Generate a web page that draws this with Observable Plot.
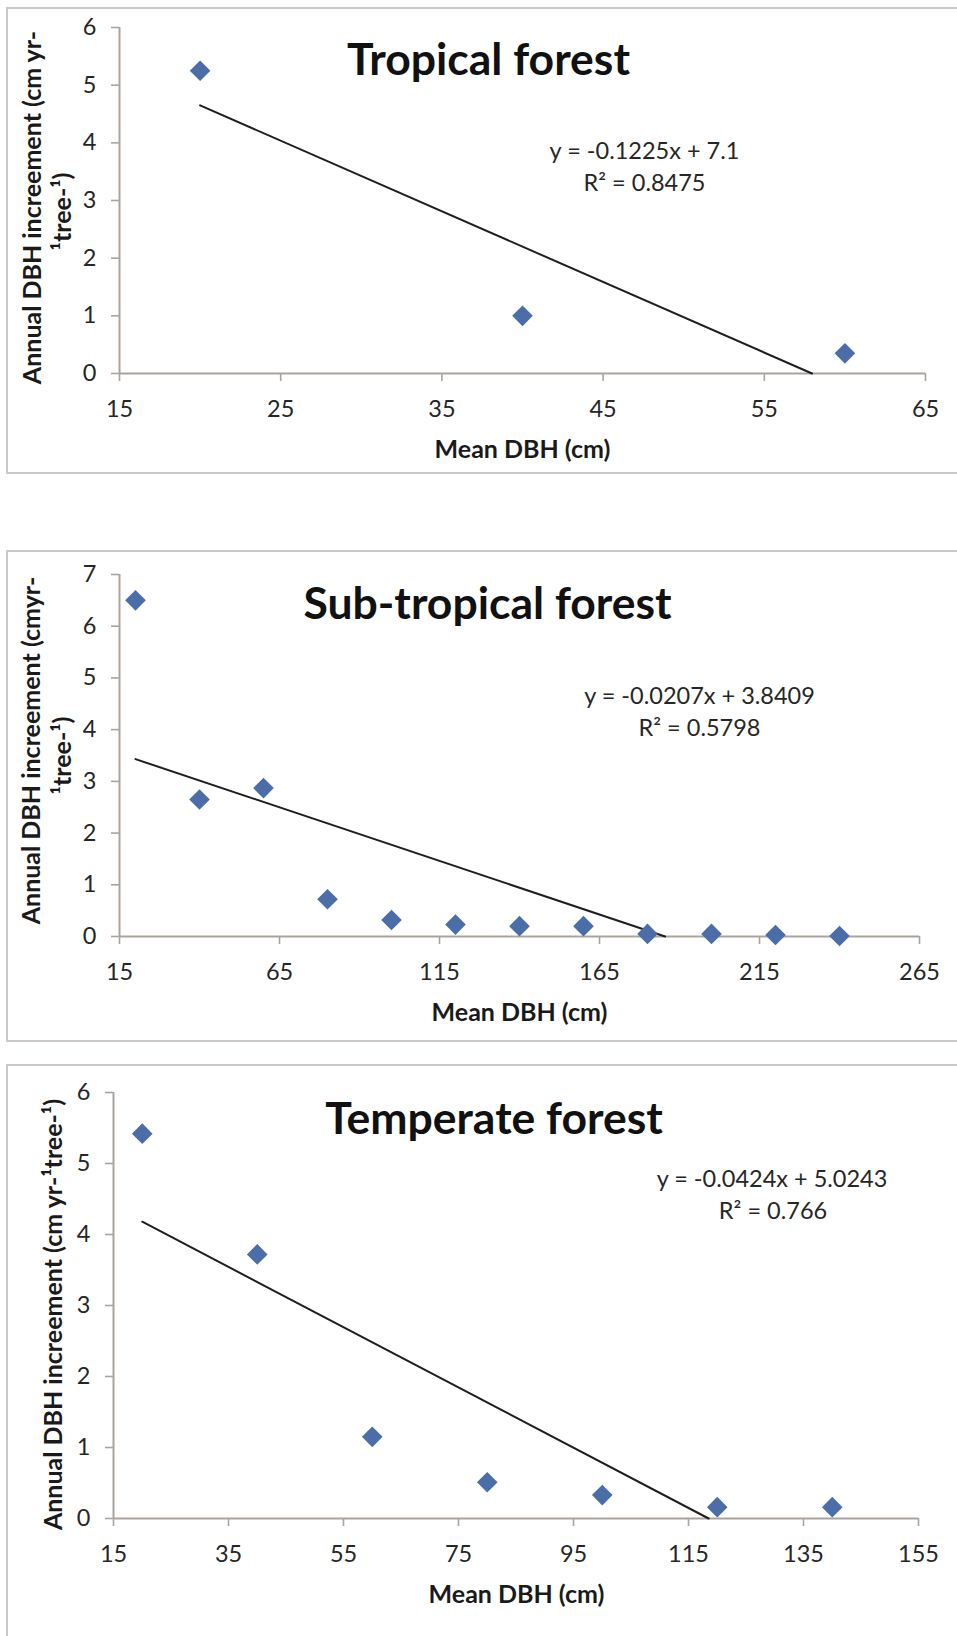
<!DOCTYPE html>
<html>
<head>
<meta charset="utf-8">
<script src="https://cdn.jsdelivr.net/npm/d3@7"></script>
<script src="https://cdn.jsdelivr.net/npm/@observablehq/plot@0.6"></script>
<style>
  html, body { margin: 0; padding: 0; background: #fff; }
  body { width: 957px; height: 1636px; position: relative; overflow: hidden; font-family: Lato, "Open Sans", sans-serif; }
  .panel { position: absolute; left: 0; width: 957px; }
  .frame { position: absolute; border: 2px solid #cdc8c3; box-sizing: border-box; pointer-events: none; }
</style>
</head>
<body>
<div id="p1" class="panel" style="top:0px"></div>
<div id="p2" class="panel" style="top:530px"></div>
<div id="p3" class="panel" style="top:1060px"></div>
<div class="frame" style="left:6px;top:7px;width:970px;height:467px"></div>
<div class="frame" style="left:6px;top:550px;width:970px;height:492px"></div>
<div class="frame" style="left:6px;top:1064px;width:970px;height:600px"></div>
<script>
// ---------------- DATA ----------------
// Tropical forest
const tropicalDBH = [20, 40, 60];
const tropicalInc = [5.25, 1.0, 0.35];
const tropicalTrendX = [20, 57.96];
const tropicalTrendY = [4.65, 0];
const tropicalXTicks = [15, 25, 35, 45, 55, 65];
const tropicalYTicks = [0, 1, 2, 3, 4, 5, 6];
const tropicalTitle = "Tropical forest";
const tropicalEq = "y = -0.1225x + 7.1";
const tropicalR2 = "R² = 0.8475";
const tropicalYLabel = ["Annual DBH increement (cm yr-", "¹tree-¹)"];

// Sub-tropical forest
const subtropicalDBH = [20, 40, 60, 80, 100, 120, 140, 160, 180, 200, 220, 240];
const subtropicalInc = [6.5, 2.65, 2.87, 0.72, 0.32, 0.23, 0.2, 0.2, 0.05, 0.05, 0.03, 0.01];
const subtropicalTrendX = [20, 185.5];
const subtropicalTrendY = [3.43, 0];
const subtropicalXTicks = [15, 65, 115, 165, 215, 265];
const subtropicalYTicks = [0, 1, 2, 3, 4, 5, 6, 7];
const subtropicalTitle = "Sub-tropical forest";
const subtropicalEq = "y = -0.0207x + 3.8409";
const subtropicalR2 = "R² = 0.5798";
const subtropicalYLabel = ["Annual DBH increement (cmyr-", "¹tree-¹)"];

// Temperate forest
const temperateDBH = [20, 40, 60, 80, 100, 120, 140];
const temperateInc = [5.42, 3.72, 1.15, 0.51, 0.33, 0.16, 0.16];
const temperateTrendX = [20, 118.5];
const temperateTrendY = [4.18, 0];
const temperateXTicks = [15, 35, 55, 75, 95, 115, 135, 155];
const temperateYTicks = [0, 1, 2, 3, 4, 5, 6];
const temperateTitle = "Temperate forest";
const temperateEq = "y = -0.0424x + 5.0243";
const temperateR2 = "R² = 0.766";
const temperateYLabel = ["Annual DBH increement (cm yr-¹tree-¹)"];

const xLabelText = "Mean DBH (cm)";

// ---------------- STYLE ----------------
const FONT = "Lato, 'Open Sans', sans-serif";
const AXIS = "#aaa49e";
const DOT = "#4b6ea9";
const LINE = "#1e1e1e";
const TEXT = "#262626";

function zip(xs, ys) { return xs.map((x, i) => ({x, y: ys[i]})); }

function panel(el, d, L) {
  const marks = [
    Plot.ruleY([0], {stroke: AXIS, strokeWidth: 2}),
    Plot.ruleX([d.xTicks[0]], {stroke: AXIS, strokeWidth: 2}),
    Plot.axisX(d.xTicks, {tickSize: 8, tickPadding: 19, stroke: AXIS, strokeWidth: 1.6,
      fontSize: 23.5, fill: TEXT, label: null, tickFormat: d3.format("d")}),
    Plot.axisY(d.yTicks, {tickSize: 8, tickPadding: 15, stroke: AXIS, strokeWidth: 1.6,
      fontSize: 23.5, fill: TEXT, label: null, tickFormat: d3.format("d")}),
    Plot.line(zip(d.trendX, d.trendY), {x: "x", y: "y", stroke: LINE, strokeWidth: 2}),
    Plot.dot(zip(d.dbh, d.inc), {x: "x", y: "y", symbol: "diamond2", r: 9.3, fill: DOT, stroke: null}),
    Plot.text([d.title], {text: t => t, frameAnchor: "top", lineAnchor: "top", dx: L.titleDx, dy: L.titleDy,
      fontSize: 44.5, fontWeight: "bold", fill: "#111"}),
    Plot.text([d.eq], {text: t => t, frameAnchor: "top", lineAnchor: "top", dx: L.eqDx, dy: L.eqDy,
      fontSize: 23.5, fill: TEXT}),
    Plot.text([d.r2], {text: t => t, frameAnchor: "top", lineAnchor: "top", dx: L.r2Dx, dy: L.r2Dy,
      fontSize: 23.5, fill: TEXT}),
    Plot.text([xLabelText], {text: t => t, frameAnchor: "bottom", lineAnchor: "top", dx: L.xlDx, dy: 67,
      fontSize: 25, fontWeight: "bold", fill: "#1a1a1a"}),
    ...d.yLabel.map((s, i) => Plot.text([s], {text: t => t, frameAnchor: "left", rotate: -90,
      textAnchor: "middle", lineAnchor: "middle",
      dx: L.ylab[i][0], dy: L.ylab[i][1], fontSize: 25, fontWeight: "bold", fill: "#1a1a1a"}))
  ];
  const chart = Plot.plot({
    width: 957, height: L.height,
    marginLeft: L.ml, marginRight: L.mr, marginTop: L.mt, marginBottom: L.mb,
    x: {domain: d.xDomain, axis: null},
    y: {domain: d.yDomain, axis: null},
    style: {fontFamily: FONT, background: "transparent", overflow: "visible"},
    marks
  });
  document.getElementById(el).appendChild(chart);
}

panel("p1", {
  dbh: tropicalDBH, inc: tropicalInc, trendX: tropicalTrendX, trendY: tropicalTrendY,
  xTicks: tropicalXTicks, yTicks: tropicalYTicks, xDomain: [15, 65], yDomain: [0, 6],
  title: tropicalTitle, eq: tropicalEq, r2: tropicalR2, yLabel: tropicalYLabel
}, {height: 480, ml: 119, mr: 32, mt: 27, mb: 107,
    titleDx: -34, titleDy: 16, eqDx: 122, eqDy: 115, r2Dx: 122, r2Dy: 146.5, xlDx: 0,
    ylab: [[-87, 7], [-57, 11]]});

panel("p2", {
  dbh: subtropicalDBH, inc: subtropicalInc, trendX: subtropicalTrendX, trendY: subtropicalTrendY,
  xTicks: subtropicalXTicks, yTicks: subtropicalYTicks, xDomain: [15, 265], yDomain: [0, 7],
  title: subtropicalTitle, eq: subtropicalEq, r2: subtropicalR2, yLabel: subtropicalYLabel
}, {height: 520, ml: 119, mr: 38, mt: 44, mb: 114,
    titleDx: -32, titleDy: 12.5, eqDx: 180, eqDy: 112.5, r2Dx: 180, r2Dy: 145, xlDx: 0,
    ylab: [[-88, -5], [-57, 0]]});

panel("p3", {
  dbh: temperateDBH, inc: temperateInc, trendX: temperateTrendX, trendY: temperateTrendY,
  xTicks: temperateXTicks, yTicks: temperateYTicks, xDomain: [15, 155], yDomain: [0, 6],
  title: temperateTitle, eq: temperateEq, r2: temperateR2, yLabel: temperateYLabel
}, {height: 576, ml: 113, mr: 39, mt: 32, mb: 118,
    titleDx: -22, titleDy: 10, eqDx: 256, eqDy: 77.5, r2Dx: 257, r2Dy: 110, xlDx: 0.5,
    ylab: [[-60, 9]]});
</script>
</body>
</html>
